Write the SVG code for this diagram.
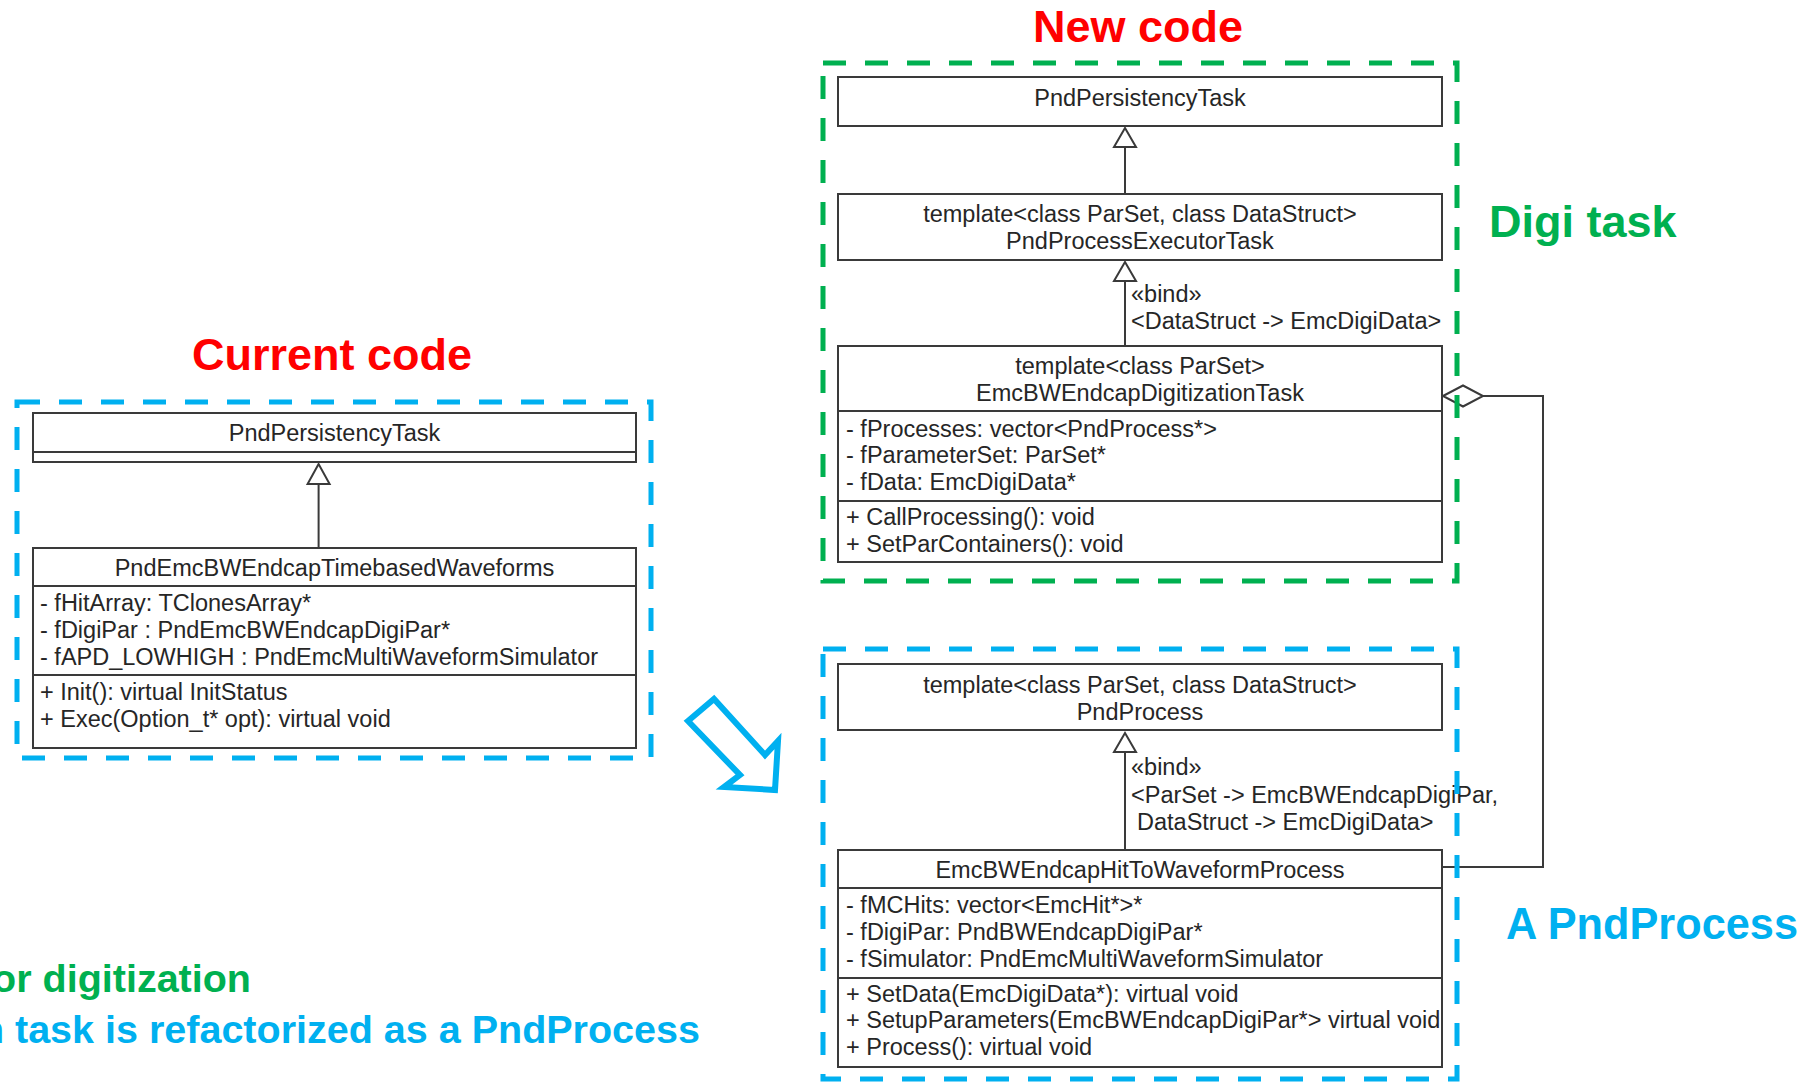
<svg xmlns="http://www.w3.org/2000/svg" width="1816" height="1082" viewBox="0 0 1816 1082">
  <defs>
    <style>
      .box { fill: #ffffff; stroke: #3a3a3a; stroke-width: 2; }
      .sep { stroke: #3a3a3a; stroke-width: 2; }
      .t { font-family: "Liberation Sans", Arial, sans-serif; font-size: 23.5px; fill: #262626; }
      .c { text-anchor: middle; }
      .edge { fill: none; stroke: #3a3a3a; stroke-width: 2; }
      .gen { fill: #ffffff; stroke: #3a3a3a; stroke-width: 2; }
      .frame { fill: none; stroke-width: 5; stroke-dasharray: 23 19; }
      .blue { stroke: #00B0F0; }
      .green { stroke: #00B050; }
      .title { font-family: "Liberation Sans", Arial, sans-serif; font-weight: bold; font-size: 45px; }
      .note { font-family: "Liberation Sans", Arial, sans-serif; font-weight: bold; font-size: 39.5px; text-anchor: end; }
    </style>
  </defs>
  <rect width="1816" height="1082" fill="#ffffff"/>

  <!-- Connectors -->
  <g id="connectors">
    <!-- left: generalization -->
    <line class="edge" x1="318.6" y1="484" x2="318.6" y2="548"/>
    <polygon class="gen" points="318.6,464 307.6,484 329.6,484"/>
    <!-- right: ExecutorTask -> PersistencyTask -->
    <line class="edge" x1="1125" y1="147" x2="1125" y2="194"/>
    <polygon class="gen" points="1125,128 1114,147 1136,147"/>
    <!-- right: DigitizationTask -> ExecutorTask (bind) -->
    <line class="edge" x1="1125" y1="281" x2="1125" y2="346"/>
    <polygon class="gen" points="1125,262 1114,281 1136,281"/>
    <!-- right: HitToWaveformProcess -> PndProcess (bind) -->
    <line class="edge" x1="1125" y1="752" x2="1125" y2="850"/>
    <polygon class="gen" points="1125,733 1114,752 1136,752"/>
    <!-- aggregation -->
    <polyline class="edge" points="1483,396 1543,396 1543,867 1442,867"/>
    <polygon class="gen" points="1443,396 1463,385.5 1483,396 1463,406.5"/>
    <!-- bind labels -->
    <text class="t" x="1131" y="302">«bind»</text>
    <text class="t" x="1131" y="329">&lt;DataStruct -&gt; EmcDigiData&gt;</text>
    <text class="t" x="1131" y="775">«bind»</text>
    <text class="t" x="1131" y="803">&lt;ParSet -&gt; EmcBWEndcapDigiPar,</text>
    <text class="t" x="1137" y="830">DataStruct -&gt; EmcDigiData&gt;</text>
  </g>

  <!-- Current code -->
  <g id="left-persistency-task">
    <rect class="box" x="33" y="413" width="603" height="49"/>
    <line class="sep" x1="33" y1="452" x2="636" y2="452"/>
    <text class="t c" x="334.5" y="441">PndPersistencyTask</text>
  </g>
  <g id="timebased-waveforms">
    <rect class="box" x="33" y="548" width="603" height="200"/>
    <line class="sep" x1="33" y1="586" x2="636" y2="586"/>
    <line class="sep" x1="33" y1="675" x2="636" y2="675"/>
    <text class="t c" x="334.5" y="576">PndEmcBWEndcapTimebasedWaveforms</text>
    <text class="t" x="40" y="611">- fHitArray: TClonesArray*</text>
    <text class="t" x="40" y="638">- fDigiPar : PndEmcBWEndcapDigiPar*</text>
    <text class="t" x="40" y="665">- fAPD_LOWHIGH : PndEmcMultiWaveformSimulator</text>
    <text class="t" x="40" y="700">+ Init(): virtual InitStatus</text>
    <text class="t" x="40" y="727">+ Exec(Option_t* opt): virtual void</text>
  </g>

  <!-- New code: digi task -->
  <g id="persistency-task">
    <rect class="box" x="838" y="77" width="604" height="49"/>
    <text class="t c" x="1140" y="106">PndPersistencyTask</text>
  </g>
  <g id="process-executor-task">
    <rect class="box" x="838" y="194" width="604" height="66"/>
    <text class="t c" x="1140" y="222">template&lt;class ParSet, class DataStruct&gt;</text>
    <text class="t c" x="1140" y="249">PndProcessExecutorTask</text>
  </g>
  <g id="digitization-task">
    <rect class="box" x="838" y="346" width="604" height="216"/>
    <line class="sep" x1="838" y1="411" x2="1442" y2="411"/>
    <line class="sep" x1="838" y1="501" x2="1442" y2="501"/>
    <text class="t c" x="1140" y="374">template&lt;class ParSet&gt;</text>
    <text class="t c" x="1140" y="401">EmcBWEndcapDigitizationTask</text>
    <text class="t" x="846" y="437">- fProcesses: vector&lt;PndProcess*&gt;</text>
    <text class="t" x="846" y="463">- fParameterSet: ParSet*</text>
    <text class="t" x="846" y="490">- fData: EmcDigiData*</text>
    <text class="t" x="846" y="525">+ CallProcessing(): void</text>
    <text class="t" x="846" y="552">+ SetParContainers(): void</text>
  </g>

  <!-- New code: process -->
  <g id="pnd-process">
    <rect class="box" x="838" y="664" width="604" height="66"/>
    <text class="t c" x="1140" y="693">template&lt;class ParSet, class DataStruct&gt;</text>
    <text class="t c" x="1140" y="720">PndProcess</text>
  </g>
  <g id="hit-to-waveform-process">
    <rect class="box" x="838" y="850" width="604" height="217"/>
    <line class="sep" x1="838" y1="888" x2="1442" y2="888"/>
    <line class="sep" x1="838" y1="978" x2="1442" y2="978"/>
    <text class="t c" x="1140" y="878">EmcBWEndcapHitToWaveformProcess</text>
    <text class="t" x="846" y="913">- fMCHits: vector&lt;EmcHit*&gt;*</text>
    <text class="t" x="846" y="940">- fDigiPar: PndBWEndcapDigiPar*</text>
    <text class="t" x="846" y="967">- fSimulator: PndEmcMultiWaveformSimulator</text>
    <text class="t" x="846" y="1002">+ SetData(EmcDigiData*): virtual void</text>
    <text class="t" x="846" y="1028">+ SetupParameters(EmcBWEndcapDigiPar*&gt; virtual void</text>
    <text class="t" x="846" y="1055">+ Process(): virtual void</text>
  </g>

  <!-- Grouping frames -->
  <rect class="frame blue" x="17" y="402" width="634" height="356"/>
  <rect class="frame green" x="823" y="63" width="634" height="518"/>
  <rect class="frame blue" x="823" y="649" width="634" height="430"/>

  <!-- Refactoring arrow -->
  <polygon points="688,721 714,699 765,755 778,741 775,790 724,787 740,775" fill="#ffffff" stroke="#00B0F0" stroke-width="6" stroke-linejoin="miter"/>

  <!-- Headings and notes -->
  <text class="title" x="332" y="370" text-anchor="middle" fill="#FF0000">Current code</text>
  <text class="title" x="1138" y="42" text-anchor="middle" fill="#FF0000">New code</text>
  <text class="title" x="1489" y="237" fill="#00B050">Digi task</text>
  <text class="title" x="1506" y="939" fill="#00B0F0" textLength="292" lengthAdjust="spacingAndGlyphs">A PndProcess</text>
  <text class="note" x="251" y="992" fill="#00B050">or digitization</text>
  <text class="note" x="700" y="1043" fill="#00B0F0">n task is refactorized as a PndProcess</text>
</svg>
